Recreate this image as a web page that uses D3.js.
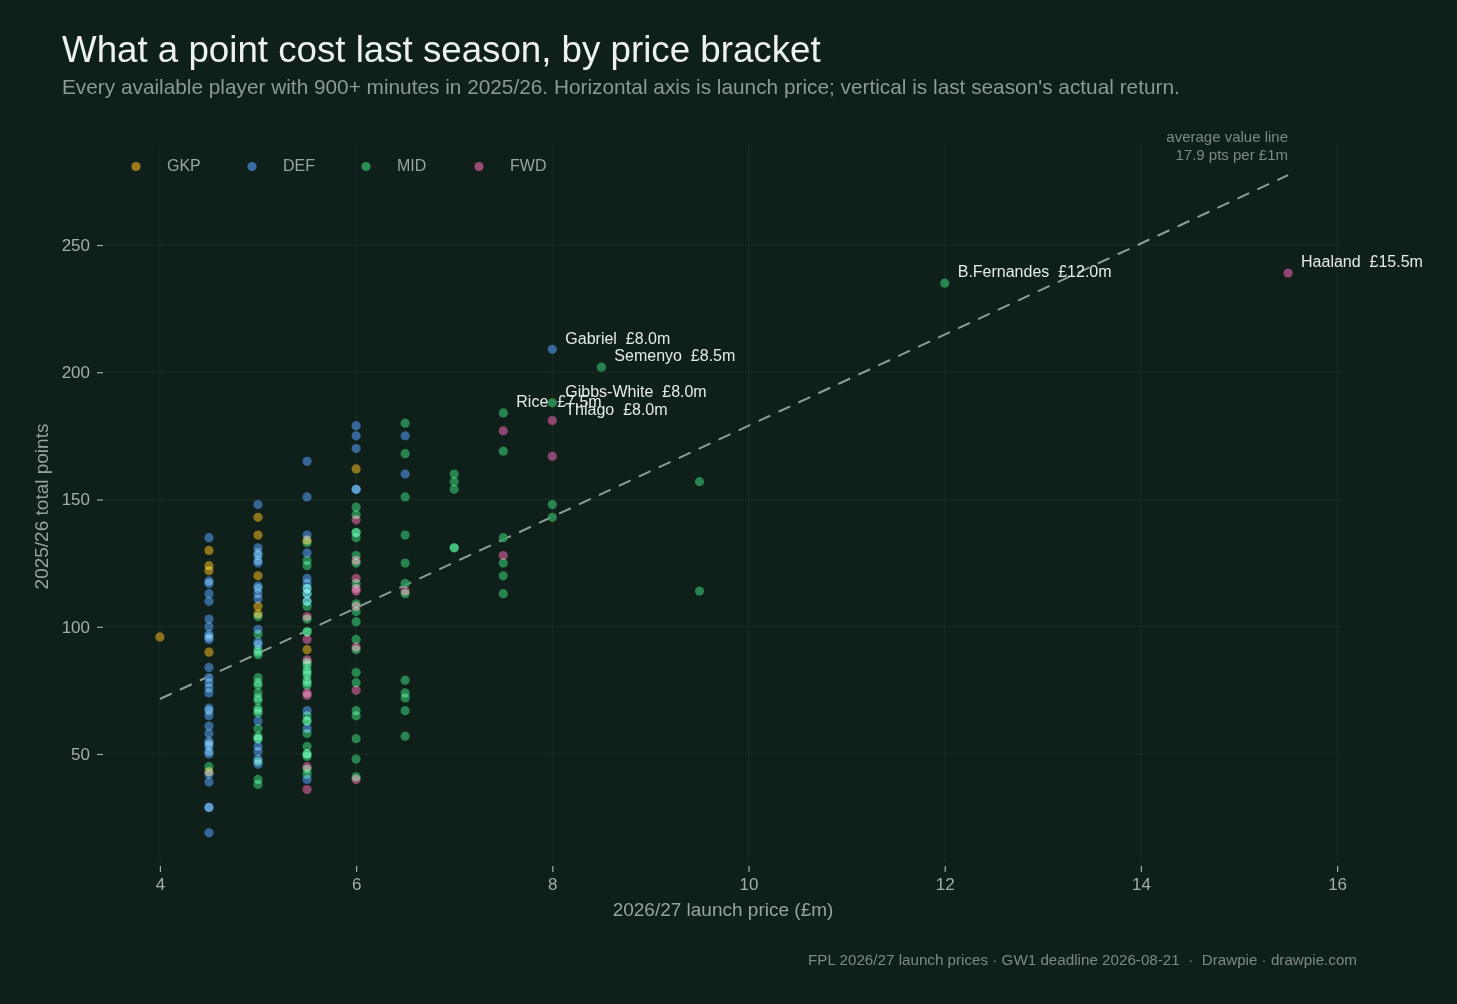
<!DOCTYPE html>
<html>
<head>
<meta charset="utf-8">
<script src="https://cdn.jsdelivr.net/npm/d3@7"></script>
<style>
  html, body { margin: 0; padding: 0; background: #0f1f1a; }
  svg { display: block; font-family: "Liberation Sans", Arial, Helvetica, sans-serif; }
</style>
</head>
<body>
<svg id="chart" width="1457" height="1004"></svg>
<script>
// ---------- DATA ----------
const positions = ["GKP", "DEF", "MID", "FWD"];

// [launch price £m, 2025/26 total points]
const gkpPlayers = [
  [4, 96],
  [4.5, 130], [4.5, 124], [4.5, 122], [4.5, 90], [4.5, 43],
  [5, 143], [5, 136], [5, 120], [5, 108], [5, 105],
  [5.5, 134], [5.5, 91],
  [6, 162]
];
const defPlayers = [
  [4.5, 135], [4.5, 118], [4.5, 117], [4.5, 113], [4.5, 110], [4.5, 103], [4.5, 100],
  [4.5, 97], [4.5, 96], [4.5, 95], [4.5, 84], [4.5, 80], [4.5, 78], [4.5, 76], [4.5, 74],
  [4.5, 68], [4.5, 67], [4.5, 65], [4.5, 61], [4.5, 58], [4.5, 55], [4.5, 54], [4.5, 53],
  [4.5, 51], [4.5, 50], [4.5, 42], [4.5, 39], [4.5, 29], [4.5, 29], [4.5, 19],
  [5, 148], [5, 131], [5, 129], [5, 128], [5, 126], [5, 125], [5, 116], [5, 115],
  [5, 113], [5, 111], [5, 99], [5, 94], [5, 93], [5, 63], [5, 53], [5, 51], [5, 48], [5, 46],
  [5.5, 165], [5.5, 151], [5.5, 136], [5.5, 129], [5.5, 119], [5.5, 117],
  [5.5, 115], [5.5, 113], [5.5, 110], [5.5, 67], [5.5, 60], [5.5, 40],
  [6, 179], [6, 175], [6, 170], [6, 154], [6, 154],
  [6.5, 175], [6.5, 160]
];
const midPlayers = [
  [4.5, 45],
  [5, 104], [5, 97], [5, 91], [5, 90], [5, 89], [5, 80], [5, 78], [5, 77], [5, 74],
  [5, 72], [5, 71], [5, 68], [5, 67], [5, 66], [5, 60], [5, 57], [5, 56], [5, 56],
  [5, 47], [5, 40], [5, 38],
  [5.5, 133], [5.5, 126], [5.5, 124], [5.5, 115], [5.5, 113], [5.5, 110],
  [5.5, 108], [5.5, 103], [5.5, 98], [5.5, 98], [5.5, 86], [5.5, 85], [5.5, 83],
  [5.5, 82], [5.5, 81], [5.5, 79], [5.5, 78], [5.5, 77], [5.5, 65], [5.5, 63], [5.5, 63],
  [5.5, 58], [5.5, 53], [5.5, 50], [5.5, 50], [5.5, 49], [5.5, 44], [5.5, 42],
  [6, 147], [6, 144], [6, 137], [6, 137], [6, 135], [6, 128], [6, 125], [6, 117],
  [6, 109], [6, 106], [6, 102], [6, 95], [6, 91], [6, 82], [6, 78], [6, 67], [6, 65],
  [6, 56], [6, 48], [6, 41],
  [6.5, 180], [6.5, 168], [6.5, 151], [6.5, 136], [6.5, 125], [6.5, 117], [6.5, 113],
  [6.5, 79], [6.5, 74], [6.5, 72], [6.5, 67], [6.5, 57],
  [7, 160], [7, 157], [7, 154], [7, 131], [7, 131],
  [7.5, 169], [7.5, 135], [7.5, 125], [7.5, 120], [7.5, 113],
  [8, 148], [8, 143],
  [9.5, 157], [9.5, 114]
];
const fwdPlayers = [
  [5.5, 104], [5.5, 95], [5.5, 87], [5.5, 74], [5.5, 73], [5.5, 45], [5.5, 36],
  [6, 142], [6, 126], [6, 119], [6, 115], [6, 114], [6, 108], [6, 92], [6, 75], [6, 40],
  [6.5, 114],
  [7.5, 177], [7.5, 128],
  [8, 167]
];
// named players: [name, position, price, points]
const namedPlayers = [
  ["Haaland", "FWD", 15.5, 239],
  ["B.Fernandes", "MID", 12.0, 235],
  ["Gabriel", "DEF", 8.0, 209],
  ["Semenyo", "MID", 8.5, 202],
  ["Gibbs-White", "MID", 8.0, 188],
  ["Thiago", "FWD", 8.0, 181],
  ["Rice", "MID", 7.5, 184]
];
const avgPtsPerMillion = 17.9;
const avgLineRange = [4, 15.5];
const xTicks = [4, 6, 8, 10, 12, 14, 16];
const yTicks = [50, 100, 150, 200, 250];

// ---------- STYLE ----------
const colors = { GKP: "#a8871f", DEF: "#3f76b2", MID: "#2d9b5a", FWD: "#a9507e" };
const W = 1457, H = 1004;
const plot = { left: 104, right: 1343, top: 145, bottom: 862 };
const NB = "\u00a0";

const svg = d3.select("#chart");
svg.append("rect").attr("width", W).attr("height", H).attr("fill", "#0f1f1a");

const x = d3.scaleLinear().domain([3.43, 16.06]).range([plot.left, plot.right]);
const y = d3.scaleLinear().domain([7.55, 289.3]).range([plot.bottom, plot.top]);

// gridlines
const grid = svg.append("g");
grid.selectAll("line.h").data(yTicks).join("line")
  .attr("x1", plot.left).attr("x2", plot.right)
  .attr("y1", d => y(d)).attr("y2", d => y(d))
  .attr("stroke", "#1c2e26").attr("stroke-width", 1);
grid.selectAll("line.v").data(xTicks).join("line")
  .attr("x1", d => x(d)).attr("x2", d => x(d))
  .attr("y1", plot.top).attr("y2", plot.bottom)
  .attr("stroke", "#1c2e26").attr("stroke-width", 1);

// axes via d3
const yAxis = svg.append("g").attr("transform", `translate(${plot.left - 1},0)`)
  .call(d3.axisLeft(y).tickValues(yTicks).tickSize(6).tickPadding(7).tickFormat(d3.format("d")));
const xAxis = svg.append("g").attr("transform", `translate(0,${plot.bottom + 4})`)
  .call(d3.axisBottom(x).tickValues(xTicks).tickSize(6).tickPadding(6).tickFormat(d3.format("d")));
[yAxis, xAxis].forEach(a => {
  a.select(".domain").remove();
  a.selectAll(".tick line").attr("stroke", "#a5afa8").attr("stroke-width", 1.2);
  a.selectAll(".tick text").attr("fill", "#a5afa8").attr("font-size", 17)
    .attr("font-family", "'Liberation Sans', Arial, sans-serif");
});

// average value line
svg.append("line")
  .attr("x1", x(avgLineRange[0])).attr("y1", y(avgPtsPerMillion * avgLineRange[0]))
  .attr("x2", x(avgLineRange[1])).attr("y2", y(avgPtsPerMillion * avgLineRange[1]))
  .attr("stroke", "#8e9c94").attr("stroke-width", 2).attr("stroke-dasharray", "13 9");
const ann = svg.append("text").attr("text-anchor", "end").attr("fill", "#7d8a82").attr("font-size", 15);
ann.append("tspan").attr("x", x(avgLineRange[1])).attr("y", 142).text("average value line");
ann.append("tspan").attr("x", x(avgLineRange[1])).attr("y", 160).text(`${avgPtsPerMillion} pts per £1m`);

// points
const pts = [];
gkpPlayers.forEach(d => pts.push({ pos: "GKP", price: d[0], points: d[1] }));
defPlayers.forEach(d => pts.push({ pos: "DEF", price: d[0], points: d[1] }));
midPlayers.forEach(d => pts.push({ pos: "MID", price: d[0], points: d[1] }));
fwdPlayers.forEach(d => pts.push({ pos: "FWD", price: d[0], points: d[1] }));
namedPlayers.forEach(d => pts.push({ pos: d[1], price: d[2], points: d[3], name: d[0] }));

const dots = svg.append("g").style("isolation", "isolate");
dots.selectAll("circle").data(pts).join("circle")
  .attr("cx", d => x(d.price)).attr("cy", d => y(d.points)).attr("r", 4.6)
  .attr("fill", d => colors[d.pos]).attr("fill-opacity", 0.82)
  .style("mix-blend-mode", "screen");

// labels
svg.append("g").selectAll("text").data(namedPlayers).join("text")
  .attr("x", d => x(d[2]) + 13).attr("y", d => y(d[3]) - 10)
  .attr("dominant-baseline", "middle")
  .attr("fill", "#e6ebe7").attr("font-size", 16)
  .text(d => `${d[0]}${NB}${NB}£${d[2].toFixed(1)}m`);

// legend
const legend = svg.append("g");
const legendX = [136, 252, 366, 479];
positions.forEach((p, i) => {
  legend.append("circle").attr("cx", legendX[i]).attr("cy", 166.5).attr("r", 4.6)
    .attr("fill", colors[p]).attr("fill-opacity", 0.9);
  legend.append("text").attr("x", legendX[i] + 31).attr("y", 166.5)
    .attr("dominant-baseline", "middle").attr("fill", "#9aa59e").attr("font-size", 16).text(p);
});

// titles
svg.append("text").attr("x", 62).attr("y", 62).attr("fill", "#eef2ee").attr("font-size", 36.7)
  .text("What a point cost last season, by price bracket");
svg.append("text").attr("x", 62).attr("y", 94).attr("fill", "#8d9a92").attr("font-size", 20.8)
  .text("Every available player with 900+ minutes in 2025/26. Horizontal axis is launch price; vertical is last season's actual return.");

// axis titles
svg.append("text").attr("x", 723).attr("y", 916).attr("text-anchor", "middle")
  .attr("fill", "#98a39c").attr("font-size", 19).text("2026/27 launch price (£m)");
svg.append("text").attr("transform", `translate(48,${(plot.top + plot.bottom) / 2 + 3}) rotate(-90)`)
  .attr("text-anchor", "middle").attr("fill", "#98a39c").attr("font-size", 19).text("2025/26 total points");

// footer
svg.append("text").attr("x", 1357).attr("y", 965).attr("text-anchor", "end")
  .attr("fill", "#7f8a83").attr("font-size", 15.2)
  .text(`FPL 2026/27 launch prices · GW1 deadline 2026-08-21${NB}${NB}·${NB}${NB}Drawpie · drawpie.com`);
</script>
</body>
</html>
